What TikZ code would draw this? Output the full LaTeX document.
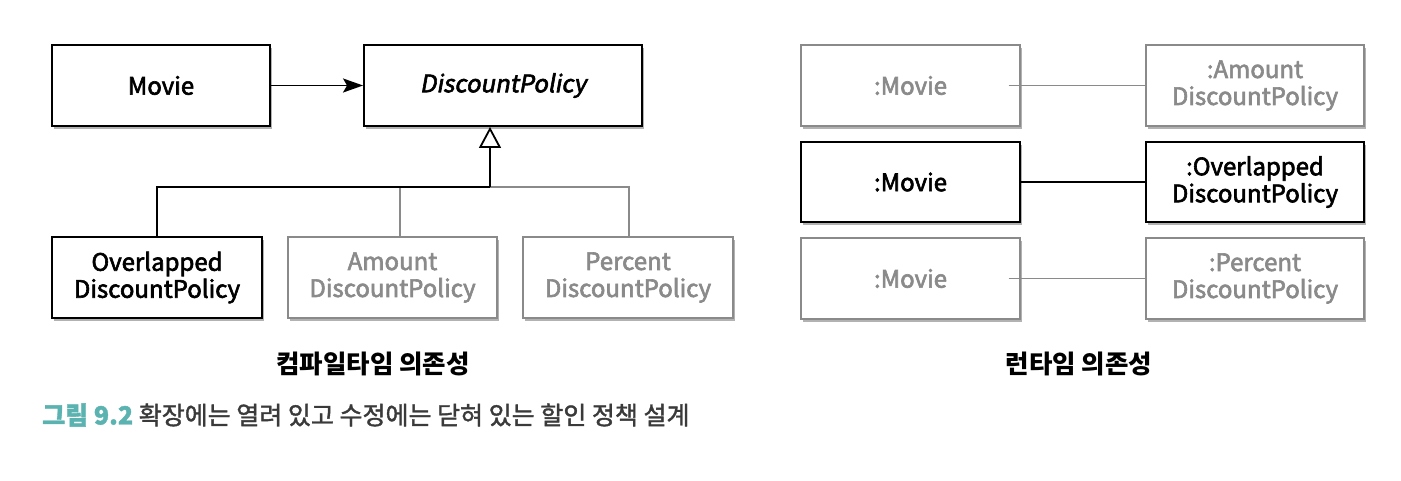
\documentclass[tikz,border=0pt]{standalone}
\usepackage{fontspec}
\setmainfont{Noto Sans CJK KR}
\newfontfamily\boxfont[FakeBold=2.5]{Noto Sans CJK KR}
\newfontfamily\slantfont[FakeSlant=0.18,FakeBold=2.5]{Noto Sans CJK KR}
\newfontfamily\capfont[FakeBold=1.5]{Noto Sans CJK KR}
\usetikzlibrary{arrows.meta,shadows}
\definecolor{lgray}{HTML}{8A8A8A}
\definecolor{teal}{HTML}{5BB3B1}
\definecolor{captext}{HTML}{3A3A3A}
\begin{document}
\begin{tikzpicture}[x=1pt,y=-1pt,
  box/.style={draw=black, line width=1.9pt, fill=white, align=center,
    font=\fontsize{24}{27}\selectfont\boxfont, inner sep=0pt,
    drop shadow={shadow xshift=1.5pt, shadow yshift=-3pt, opacity=0.3, fill=black}},
  gbox/.style={box, draw=lgray, line width=1.4pt, text=lgray},
  bline/.style={draw=black, line width=1.9pt},
  gline/.style={draw=lgray, line width=1.4pt},
  ttl/.style={font=\fontsize{25.5}{29}\selectfont\bfseries}
]
\useasboundingbox (0,0) rectangle (1401,481);
\fill[white] (0,0) rectangle (1401,481);
% left side
\node[box, minimum width=218pt, minimum height=81pt] (mv) at (161,85.5) {Movie};
\node[box, minimum width=278pt, minimum height=81pt] (dp) at (503,85.5) {\slantfont DiscountPolicy};
\node[box, minimum width=210pt, minimum height=81pt] (ov) at (157,277.5) {Overlapped\\DiscountPolicy};
\node[gbox, minimum width=209pt, minimum height=81pt] (am) at (392.5,277.5) {Amount\\DiscountPolicy};
\node[gbox, minimum width=210pt, minimum height=81pt] (pc) at (628,277.5) {Percent\\DiscountPolicy};
\coordinate (j) at (490,187);
\coordinate (jr) at (629,187);
\draw[bline, -{Stealth[length=20pt,width=14pt,inset=4pt]}] (mv.east) -- (dp.west);
\draw[gline] (j) -- (jr) -- (jr |- pc.north);
\draw[gline] (400,187) -- (400,237);
\draw[bline] (ov.north) |- (j);
\draw[bline, -{Triangle[open,length=21pt,width=22pt,line width=1.8pt]}] (j) -- (dp.south -| j);
\node[ttl] (t1) at (373,364) {컴파일타임 의존성};
% right side
\node[gbox, minimum width=219pt, minimum height=81pt] (r1) at (910.5,85.5) {:Movie};
\node[gbox, minimum width=218pt, minimum height=81pt] (s1) at (1255,85.5) {:Amount\\DiscountPolicy};
\node[box, minimum width=219pt, minimum height=80pt] (r2) at (910.5,182) {:Movie};
\node[box, minimum width=218pt, minimum height=80pt] (s2) at (1255,182) {:Overlapped\\DiscountPolicy};
\node[gbox, minimum width=219pt, minimum height=81pt] (r3) at (910.5,278.5) {:Movie};
\node[gbox, minimum width=218pt, minimum height=81pt] (s3) at (1255,278.5) {:Percent\\DiscountPolicy};
\draw[gline] ([xshift=-12pt]r1.east) -- (s1.west);
\draw[bline] (r2.east) -- (s2.west);
\draw[gline] ([xshift=-12pt]r3.east) -- (s3.west);
\node[ttl] (t2) at (1079,364) {런타임 의존성};
% caption
\node[anchor=west, font=\fontsize{25}{28}\selectfont\capfont, text=captext, inner sep=0pt] (cap) at (42,415)
  {\textcolor{teal}{\bfseries 그림 9.2} 확장에는 열려 있고 수정에는 닫혀 있는 할인 정책 설계};
\end{tikzpicture}
\end{document}
